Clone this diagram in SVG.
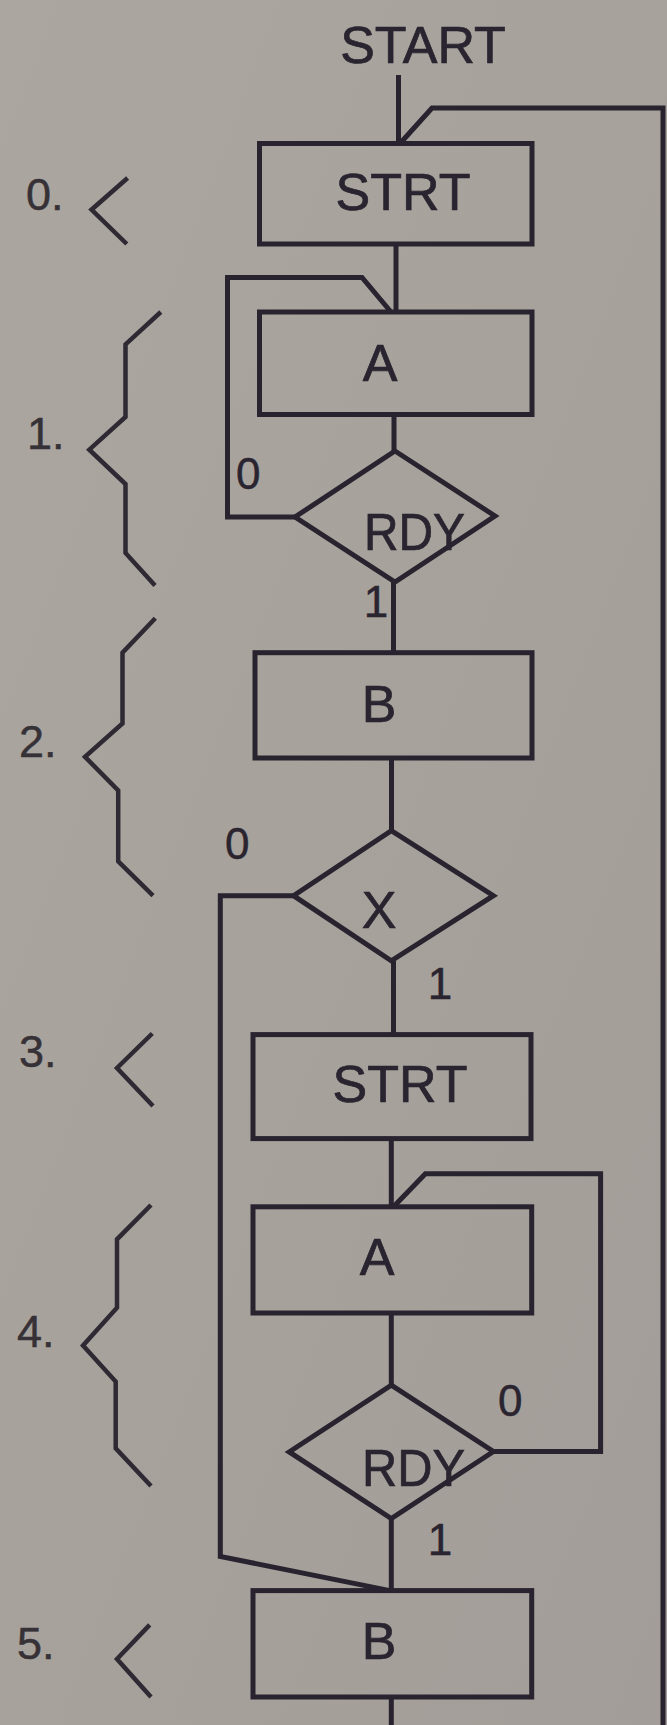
<svg xmlns="http://www.w3.org/2000/svg" width="667" height="1725" viewBox="0 0 667 1725">
<defs>
<style>
.shape{fill:none;stroke:#29222f;stroke-width:5;stroke-linejoin:miter}
.conn{fill:none;stroke:#29222f;stroke-width:5;stroke-linejoin:miter}
.brace{fill:none;stroke:#2e2933;stroke-width:4.5;stroke-linejoin:miter}
.t{font-family:"Liberation Sans",Arial,sans-serif;fill:#29242f;stroke:#29242f;stroke-width:0.7;font-size:52px}
.lbl{font-family:"Liberation Sans",Arial,sans-serif;fill:#29242f;stroke:#29242f;stroke-width:0.5;font-size:44px}
.step{font-family:"Liberation Sans",Arial,sans-serif;fill:#363136;stroke:#363136;stroke-width:0.5;font-size:45px}
</style>
<linearGradient id="g" x1="0" y1="0" x2="1" y2="1">
<stop offset="0" stop-color="#aba69f"/>
<stop offset="1" stop-color="#a29d98"/>
</linearGradient>
</defs>
<rect width="667" height="1725" fill="url(#g)"/>

<text class="t" x="423" y="63" text-anchor="middle" font-size="54">START</text>

<g id="connectors">
<path class="conn" d="M398.5 75 V143.5"/>
<path class="conn" d="M400 143.5 L432 108 H663 V1725"/>
<path class="conn" d="M396 244 V312"/>
<path class="conn" d="M295 517 H227.5 V277.5 H362 L391 312"/>
<path class="conn" d="M394 414.5 V451"/>
<path class="conn" d="M393.5 582 V652.7"/>
<path class="conn" d="M391.5 758 V830.7"/>
<path class="conn" d="M293.5 895.7 H220.3 V1556.4 L390 1590.6"/>
<path class="conn" d="M393.5 961 V1034.6"/>
<path class="conn" d="M391.3 1138.7 V1206.8"/>
<path class="conn" d="M493.4 1451.5 H600.6 V1173.7 H425.4 L393.5 1206.8"/>
<path class="conn" d="M391.3 1313 V1385.2"/>
<path class="conn" d="M391.3 1518.6 V1590.6"/>
<path class="conn" d="M391.3 1697 V1725"/>
<text class="lbl" x="236" y="489">0</text>
<text class="lbl" x="376" y="617" text-anchor="middle">1</text>
<text class="lbl" x="225" y="859">0</text>
<text class="lbl" x="440" y="999" text-anchor="middle">1</text>
<text class="lbl" x="498" y="1416">0</text>
<text class="lbl" x="440" y="1555" text-anchor="middle">1</text>
</g>

<g id="n0">
<rect class="shape" x="259.5" y="143.5" width="272.5" height="100.5"/>
<text class="t" x="403" y="210" text-anchor="middle">STRT</text>
</g>
<g id="n1a">
<rect class="shape" x="259.5" y="312" width="272.5" height="102.5"/>
<text class="t" x="380" y="381" text-anchor="middle">A</text>
</g>
<g id="n1d">
<polygon class="shape" points="395,451 495,516 395,582 295,517"/>
<text class="t" x="364" y="550" textLength="101" lengthAdjust="spacingAndGlyphs">RDY</text>
</g>
<g id="n2b">
<rect class="shape" x="255" y="652.7" width="277" height="105.3"/>
<text class="t" x="379" y="722" text-anchor="middle">B</text>
</g>
<g id="n2x">
<polygon class="shape" points="391.3,830.7 493.4,895.7 391.3,960.8 293.5,895.7"/>
<text class="t" x="379" y="928" text-anchor="middle">X</text>
</g>
<g id="n3">
<rect class="shape" x="253" y="1034.6" width="278" height="104"/>
<text class="t" x="400" y="1102" text-anchor="middle">STRT</text>
</g>
<g id="n4a">
<rect class="shape" x="253" y="1206.8" width="278.7" height="106.2"/>
<text class="t" x="377" y="1275" text-anchor="middle">A</text>
</g>
<g id="n4d">
<polygon class="shape" points="391.3,1385.2 493.4,1451.5 391.3,1518.6 289.2,1451.9"/>
<text class="t" x="362" y="1486" textLength="103" lengthAdjust="spacingAndGlyphs">RDY</text>
</g>
<g id="n5">
<rect class="shape" x="253" y="1590.6" width="278.7" height="106.4"/>
<text class="t" x="379" y="1659" text-anchor="middle">B</text>
</g>

<g id="steps">
<text class="step" x="26" y="210">0.</text>
<polyline class="brace" points="127.6,178 91.5,209.7 126.8,244"/>
<text class="step" x="27" y="449">1.</text>
<polyline class="brace" points="160.8,312 125.5,344.4 125.5,417 89.3,449.7 125.5,484 125.5,553 155,585.5"/>
<text class="step" x="19" y="757">2.</text>
<polyline class="brace" points="155.3,618.3 122.5,652.7 122.5,723.5 85,756.8 118.2,790.5 118.2,861.3 153,895.7"/>
<text class="step" x="19" y="1067">3.</text>
<polyline class="brace" points="152.3,1033.5 117,1068 153,1106"/>
<text class="step" x="17" y="1347">4.</text>
<polyline class="brace" points="151,1205 117,1239.3 117,1307.7 83,1345.6 115.7,1381.6 115.7,1448.3 151,1486"/>
<text class="step" x="17" y="1659">5.</text>
<polyline class="brace" points="149.7,1624.9 117,1659 151,1697"/>
</g>
</svg>
